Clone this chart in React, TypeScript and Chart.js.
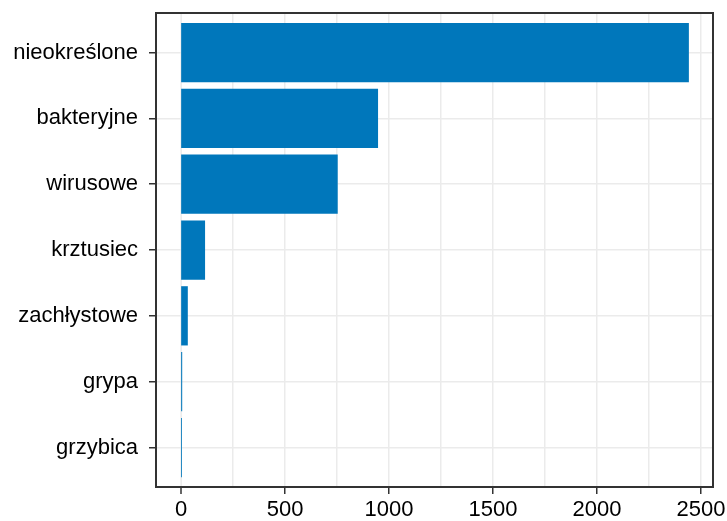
import React, { useEffect, useRef } from "react";
import { Chart, registerables } from "chart.js";

Chart.register(...registerables);

const categories = ["nieokreślone", "bakteryjne", "wirusowe", "krztusiec", "zachłystowe", "grypa", "grzybica"];
const values = [2442, 947, 753, 115, 32, 5, 4];
const xTickLabels = [0, 500, 1000, 1500, 2000, 2500];

const BAR_COLOR = "#0077BB";
const GRID_COLOR = "#EBEBEB";
const AXIS_COLOR = "#333333";

const panelBorder = {
  id: "panelBorder",
  beforeDatasetsDraw(chart: any) {
    // zero gridline drawn separately so bars start exactly at 0
    const { ctx, chartArea, scales } = chart;
    const x0 = scales.x.getPixelForValue(0);
    ctx.save();
    ctx.strokeStyle = GRID_COLOR;
    ctx.lineWidth = 1.5;
    ctx.beginPath();
    ctx.moveTo(x0, chartArea.top);
    ctx.lineTo(x0, chartArea.bottom);
    ctx.stroke();
    ctx.restore();
  },
  afterDatasetsDraw(chart: any) {
    const { ctx, chartArea } = chart;
    ctx.save();
    ctx.strokeStyle = AXIS_COLOR;
    ctx.lineWidth = 2;
    ctx.strokeRect(chartArea.left, chartArea.top, chartArea.right - chartArea.left, chartArea.bottom - chartArea.top);
    ctx.restore();
  },
};

export default function App() {
  const ref = useRef<HTMLCanvasElement | null>(null);
  useEffect(() => {
    if (!ref.current) return;
    const font = { family: "'Liberation Sans', Arial, sans-serif", size: 22 };
    const chart = new Chart(ref.current, {
      type: "bar",
      data: {
        datasets: [
          {
            data: values.map((v, i) => ({ x: v, y: i })),
            backgroundColor: BAR_COLOR,
            borderWidth: 0,
            categoryPercentage: 1,
            barPercentage: 0.9,
          },
        ],
      },
      options: {
        indexAxis: "y",
        animation: false,
        responsive: true,
        maintainAspectRatio: false,
        layout: { padding: { left: 0, top: 13, right: 14, bottom: 0 } },
        plugins: { legend: { display: false }, tooltip: { enabled: false } },
        scales: {
          x: {
            type: "linear",
            position: "bottom",
            min: -121,
            max: 2558,
            offset: false,
            border: { display: false },
            grid: {
              offset: false,
              color: GRID_COLOR,
              lineWidth: (ctx: any) => (ctx.tick?.value === 0 ? 0 : 1.5),
              tickLength: 7,
              tickWidth: 1.5,
              tickColor: (ctx: any) =>
                xTickLabels.includes(ctx.tick?.value) ? AXIS_COLOR : "rgba(0,0,0,0)",
            },
            ticks: {
              stepSize: 250,
              includeBounds: false,
              autoSkip: false,
              maxRotation: 0,
              padding: 3,
              color: "#000000",
              font,
              callback: (v: any) => (xTickLabels.includes(Number(v)) ? String(v) : ""),
            },
            afterFit: (scale: any) => {
              scale.height = 34;
              scale.paddingLeft = 0;
              scale.paddingRight = 0;
            },
          },
          y: {
            type: "linear",
            reverse: true,
            min: -0.6,
            max: categories.length - 1 + 0.6,
            offset: false,
            border: { display: false },
            grid: {
              offset: false,
              color: GRID_COLOR,
              lineWidth: 1.5,
              tickLength: 7,
              tickWidth: 1.5,
              tickColor: AXIS_COLOR,
            },
            ticks: {
              stepSize: 1,
              includeBounds: false,
              autoSkip: false,
              padding: 11,
              color: "#000000",
              font,
              callback: (v: any) => categories[Number(v)] ?? "",
            },
            afterFit: (scale: any) => {
              scale.width = 156;
              scale.paddingTop = 0;
              scale.paddingBottom = 0;
            },
          },
        },
      },
      plugins: [panelBorder],
    } as any);
    return () => chart.destroy();
  }, []);
  return (
    <div style={{ position: "fixed", left: 0, top: 0, width: 727, height: 521, background: "#ffffff" }}>
      <canvas ref={ref} />
    </div>
  );
}
